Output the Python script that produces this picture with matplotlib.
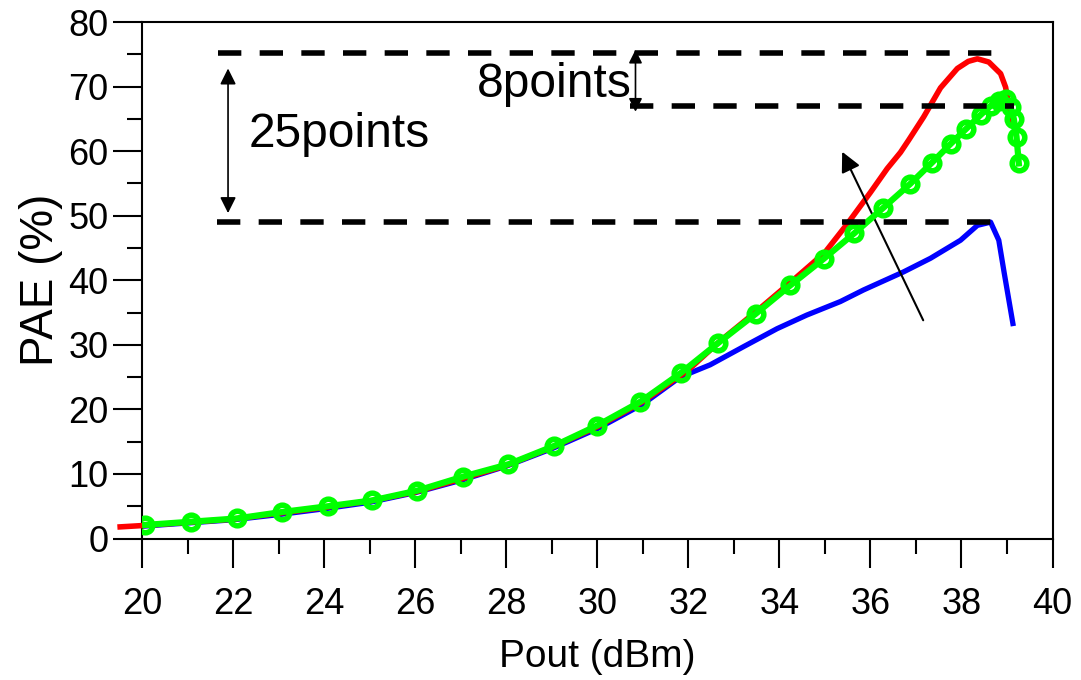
import numpy as np
import matplotlib.pyplot as plt
from matplotlib.ticker import MultipleLocator

plt.rcParams['font.family'] = ['Liberation Sans', 'DejaVu Sans']

# measured PAE vs output power
pout_red = [19.52, 20.0, 21.0, 22.0, 23.0, 24.0, 25.0, 26.0, 27.0, 28.0, 29.0, 30.0,
            31.0, 32.0, 32.7, 33.5, 34.3, 35.0, 35.5, 36.0, 36.37, 36.66, 36.84,
            37.17, 37.54, 37.91, 38.15, 38.35, 38.6, 38.86, 38.97, 39.02, 39.08]
pae_red = [1.8, 2.0, 2.5, 3.0, 3.9, 4.8, 5.8, 7.2, 9.2, 11.3, 14.1, 17.3,
           21.2, 26.1, 30.6, 35.2, 40.0, 44.3, 48.8, 53.6, 57.3, 59.8, 61.7,
           65.3, 69.8, 72.8, 73.9, 74.3, 73.8, 72.0, 69.9, 67.9, 64.8]

pout_blue = [20.0, 21.0, 22.0, 23.0, 24.0, 25.0, 26.0, 27.0, 28.0, 29.0, 30.0, 31.0,
             31.82, 32.48, 33.21, 33.95, 34.6, 35.34, 35.85, 36.73, 37.32, 37.98,
             38.35, 38.64, 38.82, 38.94, 39.13]
pae_blue = [1.9, 2.4, 2.9, 3.7, 4.6, 5.6, 7.1, 9.0, 11.2, 13.9, 17.0, 20.8,
            25.0, 26.9, 29.7, 32.5, 34.6, 36.7, 38.5, 41.3, 43.4, 46.2,
            48.5, 49.0, 46.2, 41.1, 33.3]

pout_green = [20.07, 21.08, 22.08, 23.07, 24.09, 25.06, 26.04, 27.06, 28.05, 29.04,
              30.0, 30.95, 31.83, 32.66, 33.48, 34.24, 34.97, 35.65, 36.28, 36.87,
              37.35, 37.76, 38.11, 38.42, 38.64, 38.82, 38.97, 39.08, 39.15, 39.21, 39.26]
pae_green = [2.1, 2.6, 3.1, 4.1, 5.0, 5.9, 7.4, 9.6, 11.5, 14.3,
             17.5, 21.2, 25.6, 30.3, 34.8, 39.2, 43.3, 47.3, 51.2, 54.9,
             58.2, 61.1, 63.5, 65.6, 67.0, 67.8, 68.0, 66.8, 65.0, 62.2, 58.1]

# reference levels for the improvement marks
lvl_top = 75.2
lvl_mid = 67.0
lvl_low = 49.0

fig = plt.figure(figsize=(10.81, 6.8), dpi=100)
ax = fig.add_axes([142/1081, 1-538.5/680, 910.5/1081, 516.5/680])

ax.plot(pout_blue, pae_blue, color='#0000ff', lw=3.8, zorder=2)
ax.plot(pout_red, pae_red, color='#ff0000', lw=4, zorder=3, clip_on=False)
ax.plot(pout_green, pae_green, color='#00ff00', lw=4.5, marker='o', ms=10.5,
        mew=4, mfc='none', mec='#00ff00', zorder=4)

dash = (0, (4.2, 3.3))
ax.plot([21.67, 38.68], [lvl_top, lvl_top], color='k', lw=4, linestyle=dash, zorder=5)
ax.plot([30.73, 39.15], [lvl_mid, lvl_mid], color='k', lw=4, linestyle=dash, zorder=5)
ax.plot([21.64, 38.64], [lvl_low, lvl_low], color='k', lw=4, linestyle=dash, zorder=5)

ax.annotate('', xy=(21.89, 72.8), xytext=(21.89, 50.4),
            arrowprops=dict(arrowstyle='<|-|>', color='k', lw=1.2,
                            mutation_scale=24, shrinkA=0, shrinkB=0))
ax.annotate('', xy=(30.84, 75.7), xytext=(30.84, 66.1),
            arrowprops=dict(arrowstyle='<|-|>', color='k', lw=1.2,
                            mutation_scale=20, shrinkA=0, shrinkB=0))
ax.annotate('', xy=(35.38, 59.9), xytext=(37.16, 33.8),
            arrowprops=dict(arrowstyle='-|>', color='k', lw=1.5,
                            mutation_scale=30, shrinkA=0, shrinkB=0))

ax.text(22.34, 60.6, '25points', fontsize=34.5, ha='left', va='baseline')
ax.text(27.35, 68.4, '8points', fontsize=34.5, ha='left', va='baseline')

ax.set_xlim(20, 40)
ax.set_ylim(0, 80)
ax.xaxis.set_major_locator(MultipleLocator(2))
ax.xaxis.set_minor_locator(MultipleLocator(1))
ax.yaxis.set_major_locator(MultipleLocator(10))
ax.yaxis.set_minor_locator(MultipleLocator(5))
ax.tick_params(which='both', direction='out', width=1.5, top=False, right=False)
ax.tick_params(which='major', length=21, labelsize=26)
ax.tick_params(which='minor', length=11)
ax.tick_params(axis='x', which='major', pad=14)
ax.tick_params(axis='y', which='major', pad=3)
for s in ax.spines.values():
    s.set_linewidth(1.5)

ax.set_xlabel('Pout (dBm)', fontsize=28, labelpad=12)
ax.set_ylabel('PAE (%)', fontsize=33, labelpad=4)

fig.savefig('out.png', dpi=100)
